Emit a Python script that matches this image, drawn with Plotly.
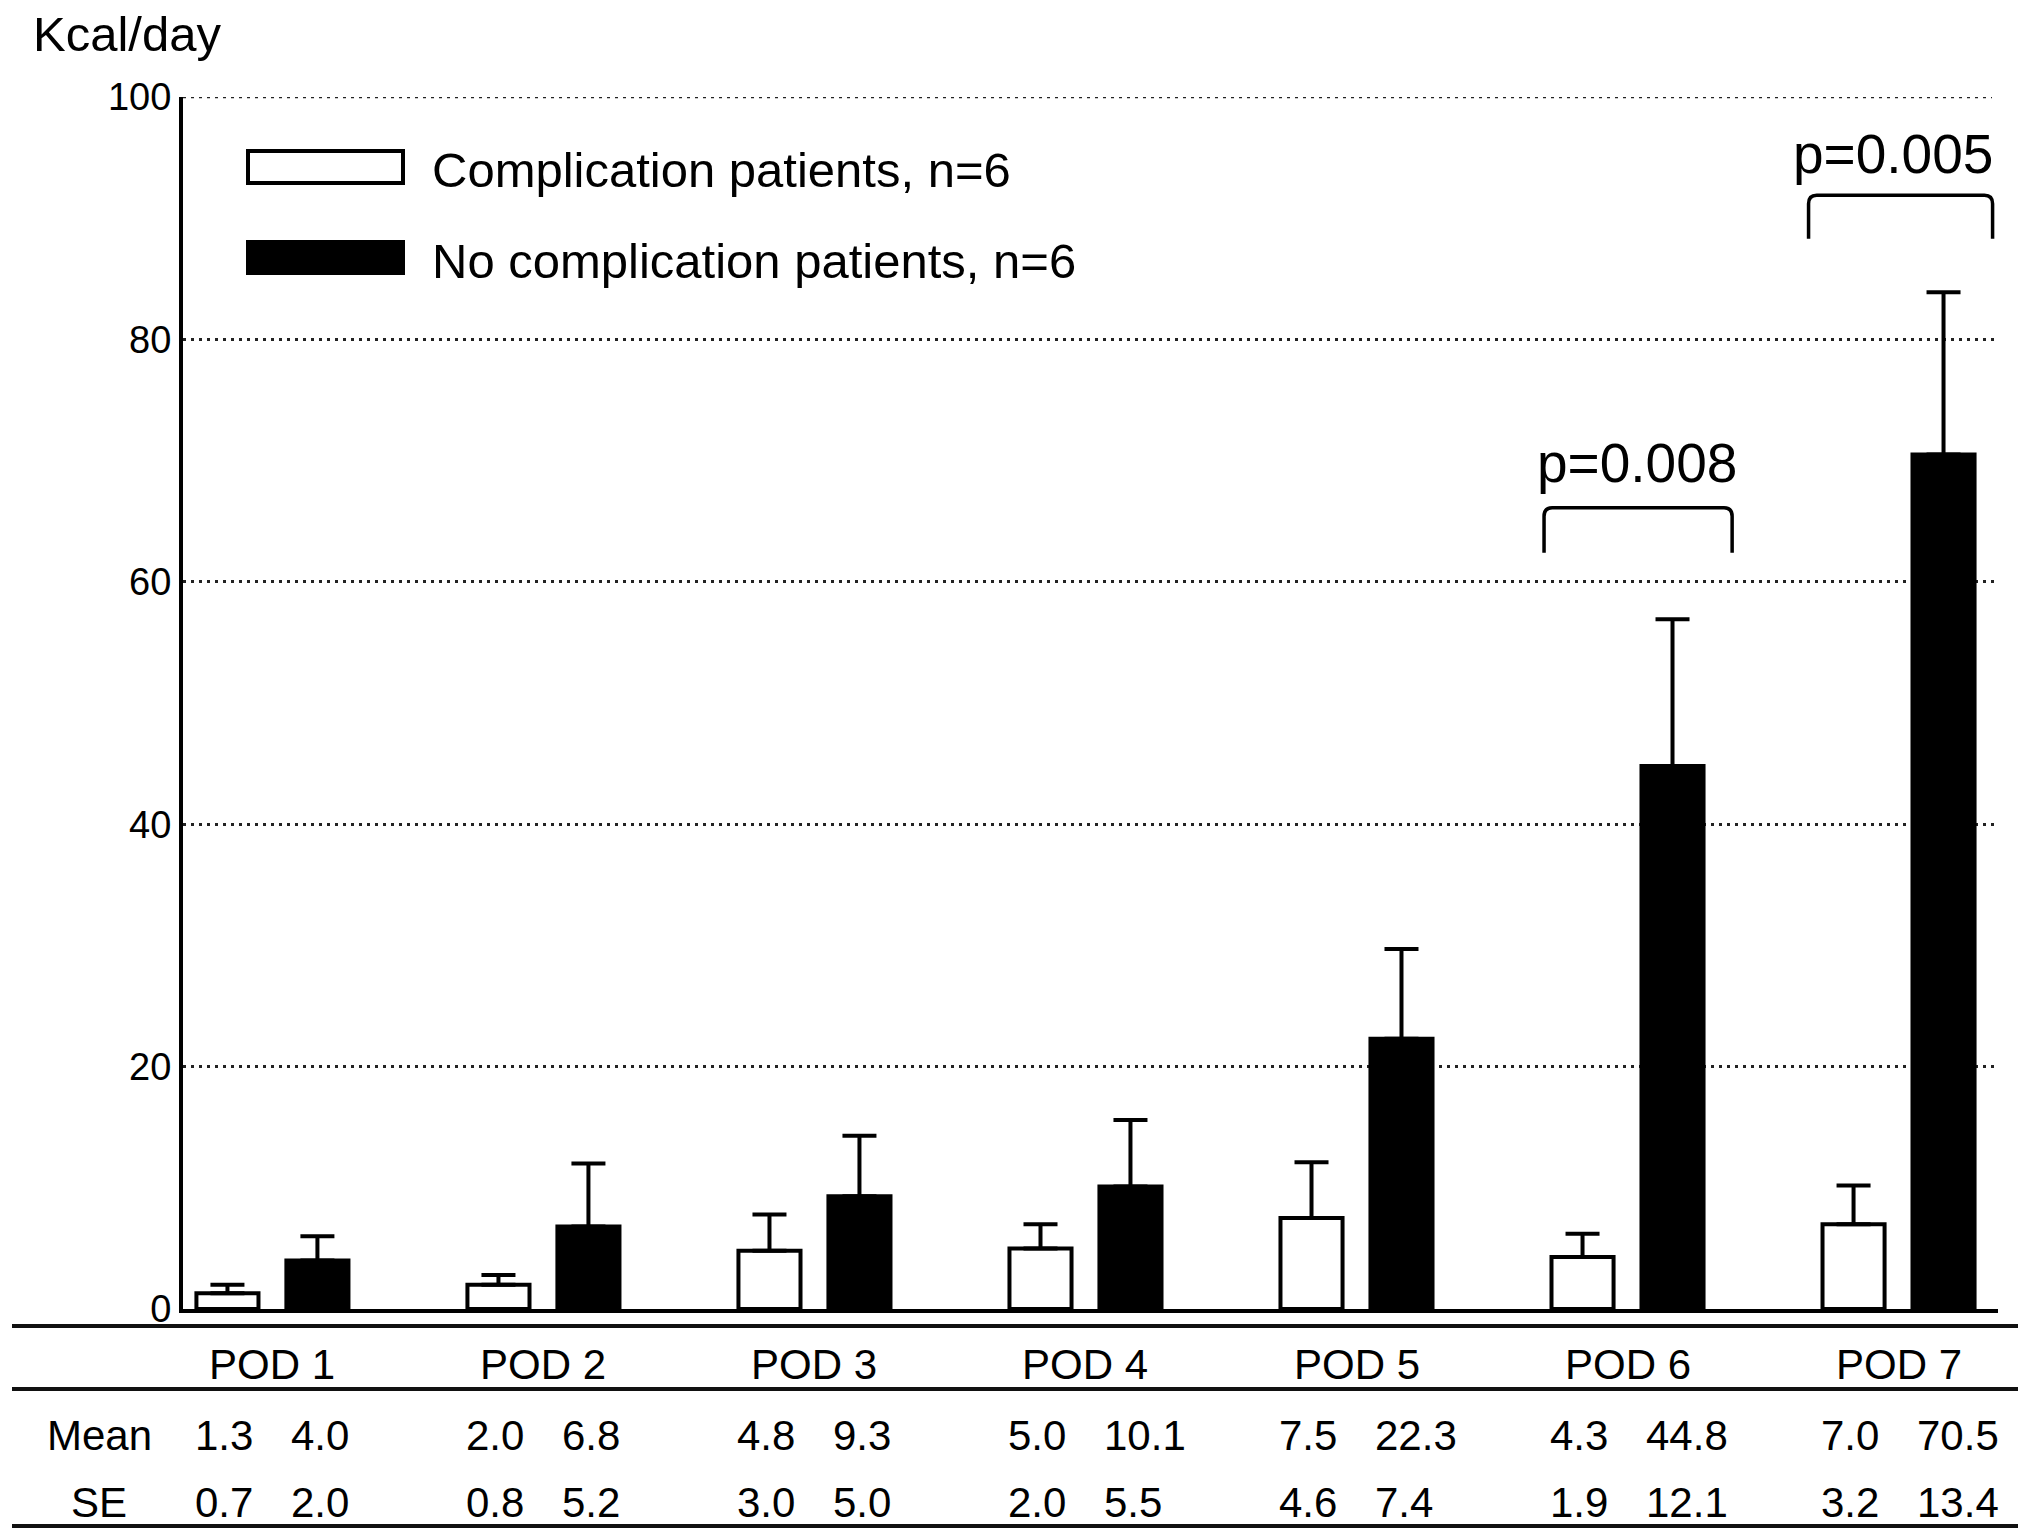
import plotly.graph_objects as go

# ---------------- data ----------------
categories = ["POD 1", "POD 2", "POD 3", "POD 4", "POD 5", "POD 6", "POD 7"]
pod_index = [1, 2, 3, 4, 5, 6, 7]
mean_comp = [1.3, 2.0, 4.8, 5.0, 7.5, 4.3, 7.0]
se_comp = [0.7, 0.8, 3.0, 2.0, 4.6, 1.9, 3.2]
mean_nocomp = [4.0, 6.8, 9.3, 10.1, 22.3, 44.8, 70.5]
se_nocomp = [2.0, 5.2, 5.0, 5.5, 7.4, 12.1, 13.4]
series_names = ["Complication patients, n=6", "No complication patients, n=6"]
y_ticks = [0, 20, 40, 60, 80, 100]
y_title = "Kcal/day"
row_labels = ["Mean", "SE"]

# significance annotations
sig_pods = [6, 7]
sig_labels = ["p=0.008", "p=0.005"]
sig_left = [-0.308, -0.332]
sig_right = [0.386, 0.347]
sig_low = [62.4, 88.3]
sig_top = [66.1, 91.9]
sig_text_y = [69.8, 95.3]
sig_text_dx = [0.035, -0.02]

# ---------------- style ----------------
FONT = "Liberation Sans, Arial, sans-serif"
W, H = 2031, 1540
L, R, T, B = 183, 33, 97, 231
PW, PH = W - L - R, H - T - B

bar_w = 0.229
half_sep = 0.166
GRID_DASH = "3px,5px"


def px_to_py(Y):
    return (H - B - Y) / PH


def px_to_px(X):
    return (X - L) / PW


fig = go.Figure()
fig.add_trace(go.Bar(
    x=pod_index, y=mean_comp, name=series_names[0],
    width=bar_w, offset=-half_sep - bar_w / 2,
    marker=dict(color="white", line=dict(color="black", width=4)),
    error_y=dict(type="data", symmetric=False, array=se_comp,
                 arrayminus=[0] * len(se_comp), color="black",
                 thickness=4, width=17),
    showlegend=False,
))
fig.add_trace(go.Bar(
    x=pod_index, y=mean_nocomp, name=series_names[1],
    width=bar_w, offset=half_sep - bar_w / 2,
    marker=dict(color="black", line=dict(color="black", width=4)),
    error_y=dict(type="data", symmetric=False, array=se_nocomp,
                 arrayminus=[0] * len(se_nocomp), color="black",
                 thickness=4, width=17),
    showlegend=False,
))

shapes = []
annotations = []

# top gridline (at the edge of the range, plotly omits it)
shapes.append(dict(type="line", xref="paper", yref="y", x0=0, x1=px_to_px(1992),
                   y0=y_ticks[-1], y1=y_ticks[-1], layer="below",
                   line=dict(color="#222222", width=2.5, dash=GRID_DASH)))

# legend (drawn manually to match the wide swatches)
legend_fill = ["white", "black"]
legend_rect_y = [(151, 183), (242, 273)]
legend_text_y = [170, 261]
for i in range(2):
    y0, y1 = legend_rect_y[i]
    shapes.append(dict(type="rect", xref="paper", yref="paper",
                       x0=px_to_px(248), x1=px_to_px(403),
                       y0=px_to_py(y1), y1=px_to_py(y0),
                       fillcolor=legend_fill[i],
                       line=dict(color="black", width=4)))
    annotations.append(dict(xref="paper", yref="paper", x=px_to_px(430),
                            y=px_to_py(legend_text_y[i]), xanchor="left",
                            yanchor="middle", showarrow=False,
                            text=series_names[i],
                            font=dict(family=FONT, size=49, color="black")))

# y-axis title
annotations.append(dict(xref="paper", yref="paper", x=px_to_px(31), y=px_to_py(34),
                        xanchor="left", yanchor="middle", showarrow=False,
                        text=y_title, font=dict(family=FONT, size=49, color="black")))

# significance brackets
dxr, dyr = 0.03, 0.7
for k in range(len(sig_pods)):
    p = sig_pods[k]
    x0 = p + sig_left[k]
    x1 = p + sig_right[k]
    lo, hi = sig_low[k], sig_top[k]
    path = (f"M {x0},{lo} L {x0},{hi - dyr} Q {x0},{hi} {x0 + dxr},{hi} "
            f"L {x1 - dxr},{hi} Q {x1},{hi} {x1},{hi - dyr} L {x1},{lo}")
    shapes.append(dict(type="path", xref="x", yref="y", path=path,
                       line=dict(color="black", width=3.5)))
    annotations.append(dict(xref="x", yref="y", x=p + sig_text_dx[k],
                            y=sig_text_y[k], xanchor="center", yanchor="middle",
                            showarrow=False, text=sig_labels[k],
                            font=dict(family=FONT, size=55, color="black")))

# table below the chart
for Y in [1326, 1389, 1526]:
    shapes.append(dict(type="line", xref="paper", yref="paper",
                       x0=px_to_px(12), x1=px_to_px(2018),
                       y0=px_to_py(Y), y1=px_to_py(Y),
                       line=dict(color="#111111", width=4)))

TFS = 42
pod_y = px_to_py(1365)
mean_y = px_to_py(1435)
se_y = px_to_py(1502)
left_comp = -half_sep - bar_w / 2 - 0.012
left_nocomp = half_sep - bar_w / 2 + 0.008
for i, p in enumerate(pod_index):
    annotations.append(dict(xref="x", yref="paper", x=p, y=pod_y,
                            xanchor="center", yanchor="middle", showarrow=False,
                            text=categories[i],
                            font=dict(family=FONT, size=TFS, color="black")))
    for vals, yy in [(mean_comp, mean_y), (se_comp, se_y)]:
        annotations.append(dict(xref="x", yref="paper", x=p + left_comp, y=yy,
                                xanchor="left", yanchor="middle", showarrow=False,
                                text=f"{vals[i]:.1f}",
                                font=dict(family=FONT, size=TFS, color="black")))
    for vals, yy in [(mean_nocomp, mean_y), (se_nocomp, se_y)]:
        annotations.append(dict(xref="x", yref="paper", x=p + left_nocomp, y=yy,
                                xanchor="left", yanchor="middle", showarrow=False,
                                text=f"{vals[i]:.1f}",
                                font=dict(family=FONT, size=TFS, color="black")))
for lab, yy in zip(row_labels, [mean_y, se_y]):
    annotations.append(dict(xref="paper", yref="paper", x=px_to_px(99), y=yy,
                            xanchor="center", yanchor="middle", showarrow=False,
                            text=lab, font=dict(family=FONT, size=TFS, color="black")))

fig.update_layout(
    width=W, height=H,
    margin=dict(l=L, r=R, t=T, b=B, pad=0),
    paper_bgcolor="white", plot_bgcolor="white",
    barmode="overlay",
    font=dict(family=FONT, color="black"),
    shapes=shapes, annotations=annotations,
    xaxis=dict(range=[0.670, 7.367], showgrid=False, zeroline=False,
               showticklabels=False, ticks="", showline=True,
               linecolor="black", linewidth=4, fixedrange=True),
    yaxis=dict(range=[0, 100], tickvals=y_ticks, showgrid=True,
               gridcolor="#222222", gridwidth=2.5, griddash=GRID_DASH,
               zeroline=False, showline=True, linecolor="black", linewidth=4,
               ticks="", ticklabelstandoff=0,
               tickfont=dict(family=FONT, size=38, color="black")),
)

fig.write_html("out.html", config={"displayModeBar": False},
               post_script="document.body.style.margin='0';")
